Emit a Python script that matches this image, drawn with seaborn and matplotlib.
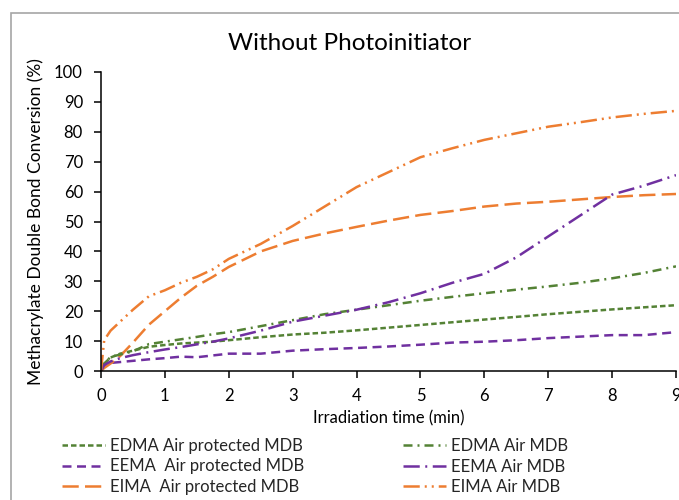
import matplotlib
matplotlib.use('Agg')
import matplotlib.pyplot as plt
import matplotlib.patches as patches
import numpy as np
import pandas as pd
import seaborn as sns

# Irradiation time (min), shared by all series
time_min = [0, 0.05, 0.15, 0.3, 0.5, 0.75, 1, 1.25, 1.5, 1.75, 2, 2.5, 3,
            3.5, 4, 4.5, 5, 5.5, 6, 6.5, 7, 7.5, 8, 8.5, 9]

# Methacrylate double bond conversion (%)
edma_protected = [0, 2.5, 4.5, 5.8, 6.8, 8.1, 8.7, 9.2, 9.5, 9.8, 10.3, 11.3, 12.2,
                  12.8, 13.6, 14.5, 15.4, 16.3, 17.2, 18.1, 19.0, 19.8, 20.6, 21.3, 22.0]
edma_air = [0, 2.5, 4.7, 5.5, 6.6, 9.0, 9.8, 10.6, 11.4, 12.3, 13.0, 15.0, 17.0,
            19.0, 20.5, 22.0, 23.5, 24.8, 26.0, 27.2, 28.3, 29.5, 31.0, 32.8, 35.0]
eema_protected = [0, 1.5, 2.7, 3.0, 3.4, 3.9, 4.3, 4.8, 4.6, 5.2, 5.8, 5.8, 6.8,
                  7.3, 7.7, 8.2, 8.8, 9.5, 9.8, 10.3, 11.0, 11.5, 12.0, 12.0, 13.0]
eema_air = [0, 2.0, 3.2, 4.3, 5.3, 6.3, 7.2, 8.0, 8.9, 9.8, 10.9, 13.5, 16.5,
            18.5, 20.5, 23.0, 26.0, 29.5, 32.5, 38.0, 45.0, 52.0, 59.0, 62.0, 65.5]
eima_protected = [0, 1.0, 2.5, 5.0, 9.5, 15.5, 20.0, 24.5, 28.5, 31.5, 34.8, 40.0, 43.5,
                  46.0, 48.2, 50.3, 52.2, 53.5, 55.0, 56.0, 56.6, 57.4, 58.2, 58.8, 59.2]
eima_air = [0, 10.3, 13.5, 16.5, 20.5, 25.0, 27.0, 29.5, 31.5, 34.0, 37.5, 42.5, 48.5,
            55.0, 61.5, 66.5, 71.5, 74.5, 77.3, 79.5, 81.7, 83.2, 84.8, 86.0, 87.0]

labels = ['EDMA Air protected MDB', 'EEMA  Air protected MDB', 'EIMA  Air protected MDB',
          'EDMA Air MDB', 'EEMA Air MDB', 'EIMA Air MDB']
values = [edma_protected, eema_protected, eima_protected, edma_air, eema_air, eima_air]

green = '#548235'
purple = '#7030A0'
orange = '#ED7D31'
colors = [green, purple, orange, green, purple, orange]
styles = [(0, (2.2, 1.2)),
          (0, (3.6, 2.2)),
          (0, (6.5, 2.5)),
          (0, (3.6, 2.0, 0.8, 2.0)),
          (0, (6.5, 2.2, 0.8, 2.2)),
          (0, (6.5, 2.0, 0.8, 2.0, 0.8, 2.0))]

sns.set_theme(style='white')
plt.rcParams['font.family'] = ['Lato', 'DejaVu Sans']

fig = plt.figure(figsize=(6.79, 5.0), dpi=100)
ax = fig.add_axes([101 / 679, 1 - 371 / 500, 575 / 679, 299 / 500])

for lab, vals, col, ls in zip(labels, values, colors, styles):
    df = pd.DataFrame({'time': time_min, 'conv': vals})
    sns.lineplot(data=df, x='time', y='conv', ax=ax, color=col, linestyle=ls,
                 linewidth=1.8, label=lab, legend=False)

ax.set_xlim(0, 9)
ax.set_ylim(0, 100)
ax.set_xticks(np.arange(0, 10, 1))
ax.set_yticks(np.arange(0, 101, 10))
ax.tick_params(axis='both', labelsize=12, colors='black', direction='out',
               length=5, width=1.1, bottom=True, left=True)
ax.tick_params(axis='y', pad=8)
ax.tick_params(axis='x', pad=7)
for side in ['top', 'right']:
    ax.spines[side].set_visible(False)
for side in ['left', 'bottom']:
    ax.spines[side].set_color('black')
    ax.spines[side].set_linewidth(1.1)

ax.set_xlabel('Irradiation time (min)', fontsize=12, color='black', labelpad=5)
ax.set_ylabel('Methacrylate Double Bond Conversion (%)', fontsize=12.5, color='black')
ax.yaxis.set_label_coords((44 - 101) / 575, 0.5)
fig.text(350 / 679, 1 - 43 / 500, 'Without Photoinitiator', fontsize=17.5,
         ha='center', va='center', color='black')

handles, labs = ax.get_legend_handles_labels()
fig.legend(handles, labs, ncol=2, loc='upper left', bbox_to_anchor=(62 / 679, 1 - 438 / 500),
           frameon=False, fontsize=12, handlelength=2.6, handletextpad=0.3,
           columnspacing=5.9, labelspacing=0.27, borderaxespad=0, borderpad=0)

# chart border (cropped Excel-style frame)
fig.patches.append(patches.Rectangle((11 / 679, -0.2), 1.2, 1.2 - 13 / 500,
                                     transform=fig.transFigure, fill=False,
                                     edgecolor='#A6A6A6', linewidth=1.2))

fig.savefig('out.png', dpi=100)
